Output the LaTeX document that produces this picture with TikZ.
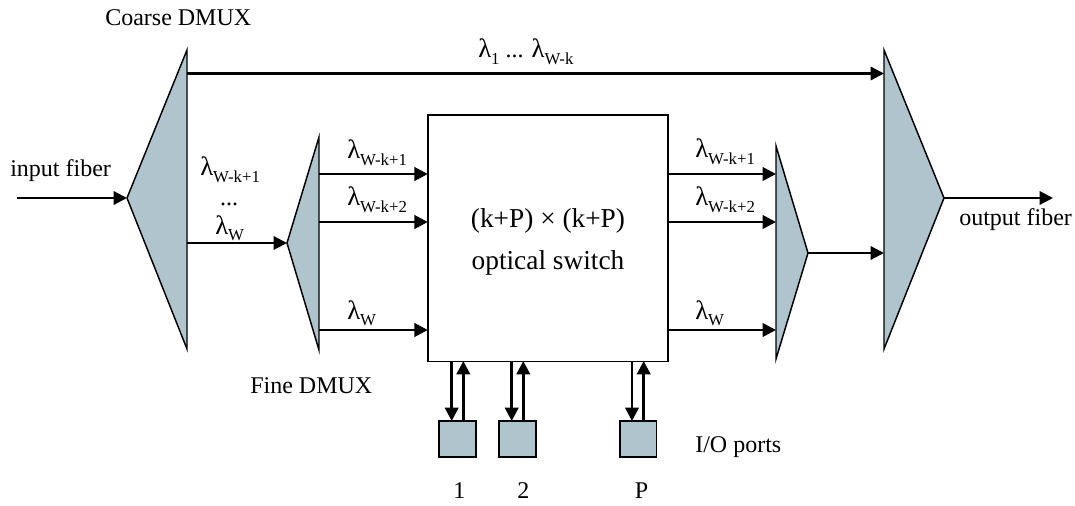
\documentclass[tikz,border=0pt]{standalone}
\usepackage{fontspec}
\setmainfont{Liberation Serif}
\usetikzlibrary{arrows.meta}
\definecolor{blockfill}{HTML}{B0C4CE}
\newcommand{\lam}[1]{{\fontsize{20}{20}\selectfont λ}\raisebox{-5pt}{\fontsize{12.6}{14}\selectfont #1}}
\tikzset{
  x=0.75pt,y=-0.75pt,
  block/.style={draw=black,line width=1.1pt,fill=blockfill,line join=miter},
  link/.style={draw=black,line width=2pt,-{Triangle[length=10pt,width=10pt]}},
  thinlink/.style={link,line width=1.6pt},
  lbl/.style={inner sep=0pt,font=\fontsize{18}{20}\selectfont,anchor=base west},
  captext/.style={inner sep=0pt,font=\fontsize{18}{20}\selectfont,anchor=base west},
  portbox/.style={block,line width=1.3pt,minimum width=27.5pt,minimum height=27pt,inner sep=0pt,outer sep=0pt,anchor=north west},
}
\begin{document}
\begin{tikzpicture}
\useasboundingbox (0,0) rectangle (1075,506);
% coarse demux
\coordinate (cA) at (127,198);
\coordinate (cT) at (187,50);
\coordinate (cB) at (187,349);
\coordinate (cTop) at (187,73.5);
\coordinate (cOut) at (187,243);
\draw[block] (cA) -- (cT) -- (cB) -- cycle;
% fine demux
\coordinate (fA) at (287,243);
\coordinate (fT) at (319,137);
\coordinate (fB) at (319,350);
\coordinate (f1) at (319,174);
\coordinate (f2) at (319,222);
\coordinate (f3) at (319,330);
\draw[block] (fA) -- (fT) -- (fB) -- cycle;
% fine mux
\coordinate (mA) at (808,253);
\coordinate (mT) at (776,146);
\coordinate (mB) at (776,359);
\coordinate (m1) at (776,174);
\coordinate (m2) at (776,222);
\coordinate (m3) at (776,330);
\draw[block] (mA) -- (mT) -- (mB) -- cycle;
% coarse mux
\coordinate (oA) at (944,198);
\coordinate (oT) at (884,50);
\coordinate (oB) at (884,349);
\coordinate (oTop) at (884,73.5);
\coordinate (oIn) at (884,253);
\draw[block] (oA) -- (oT) -- (oB) -- cycle;
% switch
\node[draw=black,line width=1.2pt,minimum width=180pt,minimum height=185pt,inner sep=0pt,outer sep=0pt,anchor=north west,fill=white] (sw) at (427.8,115) {};
\node[inner sep=0pt,font=\fontsize{20.5}{24}\selectfont,anchor=base] (swa) at (548,228) {(k+P) × (k+P)};
\node[inner sep=0pt,font=\fontsize{20.5}{24}\selectfont,anchor=base] (swb) at (548,270) {optical switch};
% ports
\node[portbox] (p1) at (439.3,421) {};
\node[portbox] (p2) at (499.3,421) {};
\node[portbox] (p3) at (619.7,421) {};
% free ends
\coordinate (inS) at (17,198);
\coordinate (outE) at (1053,198);
% links
\draw[thinlink] (inS) -- (cA);
\draw[thinlink] (cTop) -- (oTop);
\draw[thinlink] (cOut) -- (fA);
\draw[link] (f1) -- (sw.west |- f1);
\draw[link] (f2) -- (sw.west |- f2);
\draw[link] (f3) -- (sw.west |- f3);
\draw[link] (sw.east |- m1) -- (m1);
\draw[link] (sw.east |- m2) -- (m2);
\draw[link] (sw.east |- m3) -- (m3);
\draw[thinlink] (mA) -- (oIn);
\draw[thinlink] (oA) -- (outE);
\foreach \a/\b in {451.7/463.3,511.7/523.3,632/643.7}{
  \draw[link] (\a,361) -- (\a,421);
  \draw[link] (\b,421) -- (\b,361);
}
% labels
\node[captext] (t1) at (105,26) {Coarse DMUX};
\node[captext] (t2) at (10,177) {input fiber};
\node[captext] (t3) at (959,225) {output fiber};
\node[captext] (t4) at (250,393) {Fine DMUX};
\node[captext] (t5) at (695,452) {I/O ports};
\node[captext] (t6) at (453,498) {1};
\node[captext] (t7) at (517,498) {2};
\node[captext] (t8) at (634.5,498) {P};
\node[lbl] (l0) at (478,58) {\lam{1} ... \lam{W-k}};
\node[lbl] (l1) at (200,176) {\lam{W-k+1}};
\node[lbl,anchor=base] (l2) at (229,206) {...};
\node[lbl] (l3) at (215,234) {\lam{W}};
\node[lbl] (l4) at (347,159) {\lam{W-k+1}};
\node[lbl] (l5) at (347,206) {\lam{W-k+2}};
\node[lbl] (l6) at (347,319) {\lam{W}};
\node[lbl] (l7) at (695,158) {\lam{W-k+1}};
\node[lbl] (l8) at (695,206) {\lam{W-k+2}};
\node[lbl] (l9) at (695,319) {\lam{W}};
\end{tikzpicture}
\end{document}
